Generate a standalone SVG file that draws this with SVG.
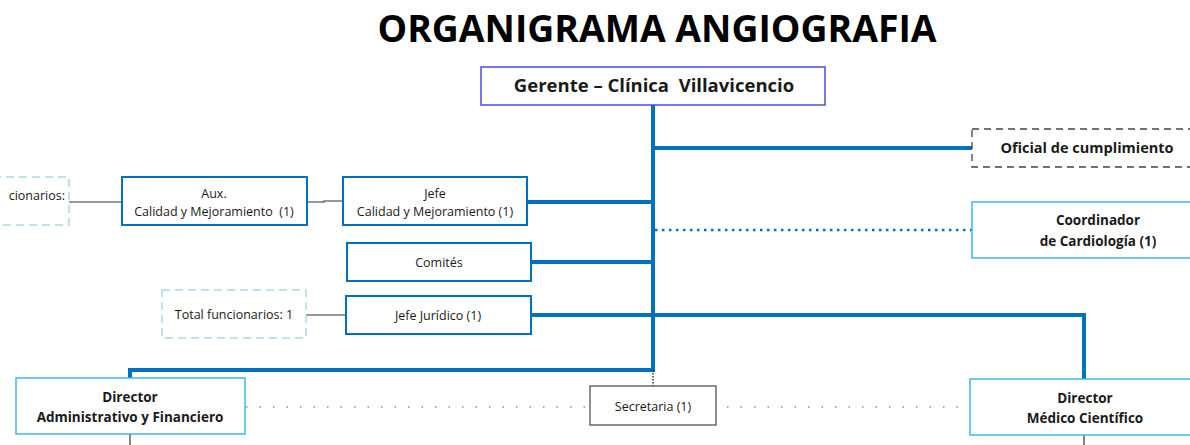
<svg xmlns="http://www.w3.org/2000/svg" width="1190" height="445" viewBox="0 0 1190 445">
<style>
text{font-family:"Open Sans","Liberation Sans",sans-serif;fill:#1a1a1a;text-anchor:middle}
.b{font-weight:bold}
.reg{font-size:12.5px}
.bx{fill:#fff;stroke:#0070c0;stroke-width:2}
.lb{fill:#fff;stroke:#3db8ef;stroke-width:1.5}
.dsh{fill:#fff;stroke:#a6d9e6;stroke-width:1.5;stroke-dasharray:8 5}
.thick{stroke:#0070c0;stroke-width:4;fill:none}
.thin{stroke:#333;stroke-width:1.2;fill:none}
.dot{stroke:#555;stroke-width:1;stroke-dasharray:1.5 12;fill:none}
</style>
<rect width="1190" height="445" fill="#fff"/>
<text x="657" y="42" class="b" style="font-size:38px;fill:#000" textLength="559" lengthAdjust="spacingAndGlyphs">ORGANIGRAMA ANGIOGRAFIA</text>
<g id="connectors">
<path class="thick" d="M653 105V370H130V378"/>
<path class="thick" d="M653 148H972"/>
<path class="thick" d="M527 202H653"/>
<path class="thick" d="M531 262H653"/>
<path class="thick" d="M531 315H1084V379"/>
<path d="M655 230H972" stroke="#0070c0" stroke-width="2.5" stroke-dasharray="2.5 4.5" fill="none"/>
<path class="thin" d="M69 202H122"/>
<path class="thin" d="M307 202H324V201H343"/>
<path class="thin" d="M306 315H346"/>
<path d="M653 370V386" stroke="#333" stroke-width="1.5" stroke-dasharray="1.5 1.5" fill="none"/>
<path class="dot" d="M246 407H590"/>
<path class="dot" d="M727 407H972"/>
<path class="thin" d="M130 434V445"/>
<path class="thin" d="M1084 435V445"/>
</g>
<g id="gerente">
<rect x="481" y="67" width="344" height="38" fill="#fff" stroke="#4a4ae6" stroke-width="1.5"/>
<text x="654" y="92" class="b" style="font-size:18.5px" xml:space="preserve">Gerente – Clínica  Villavicencio</text>
</g>
<g id="oficial">
<rect x="972" y="129" width="230" height="38" fill="#fff" stroke="#444" stroke-width="1.3" stroke-dasharray="7 5"/>
<text x="1087" y="153" class="b" style="font-size:14.5px">Oficial de cumplimiento</text>
</g>
<g id="coordinador">
<rect x="972" y="202" width="230" height="56" class="lb"/>
<text x="1098" y="225" class="b" style="font-size:13.5px">Coordinador</text>
<text x="1098" y="246" class="b" style="font-size:13.5px">de Cardiología (1)</text>
</g>
<g id="total-funcionarios-left">
<rect x="-20" y="177" width="89" height="48" class="dsh"/>
<text x="65" y="200" class="reg" style="text-anchor:end">cionarios:</text>
</g>
<g id="aux-calidad">
<rect x="122" y="177" width="185" height="48" class="bx"/>
<text x="214" y="198" class="reg">Aux.</text>
<text x="214" y="216" class="reg" xml:space="preserve">Calidad y Mejoramiento  (1)</text>
</g>
<g id="jefe-calidad">
<rect x="343" y="177" width="184" height="48" class="bx"/>
<text x="435" y="198" class="reg">Jefe</text>
<text x="435" y="216" class="reg">Calidad y Mejoramiento (1)</text>
</g>
<g id="comites">
<rect x="347" y="243" width="184" height="38" class="bx"/>
<text x="439" y="267" class="reg">Comités</text>
</g>
<g id="total-funcionarios">
<rect x="162" y="290" width="144" height="48" class="dsh"/>
<text x="234" y="319" class="reg">Total funcionarios: 1</text>
</g>
<g id="jefe-juridico">
<rect x="346" y="296" width="185" height="38" class="bx"/>
<text x="438" y="320" class="reg">Jefe Jurídico (1)</text>
</g>
<g id="director-admin">
<rect x="16" y="378" width="229" height="56" class="lb"/>
<text x="130" y="402" class="b" style="font-size:13.5px">Director</text>
<text x="130" y="422" class="b" style="font-size:13.5px">Administrativo y Financiero</text>
</g>
<g id="secretaria">
<rect x="590" y="386" width="126" height="39" fill="#fff" stroke="#444" stroke-width="1.2"/>
<text x="653" y="411" class="reg">Secretaria (1)</text>
</g>
<g id="director-medico">
<rect x="970" y="379" width="230" height="56" class="lb"/>
<text x="1085" y="403" class="b" style="font-size:13.5px">Director</text>
<text x="1085" y="423" class="b" style="font-size:13.5px">Médico Científico</text>
</g>
</svg>
